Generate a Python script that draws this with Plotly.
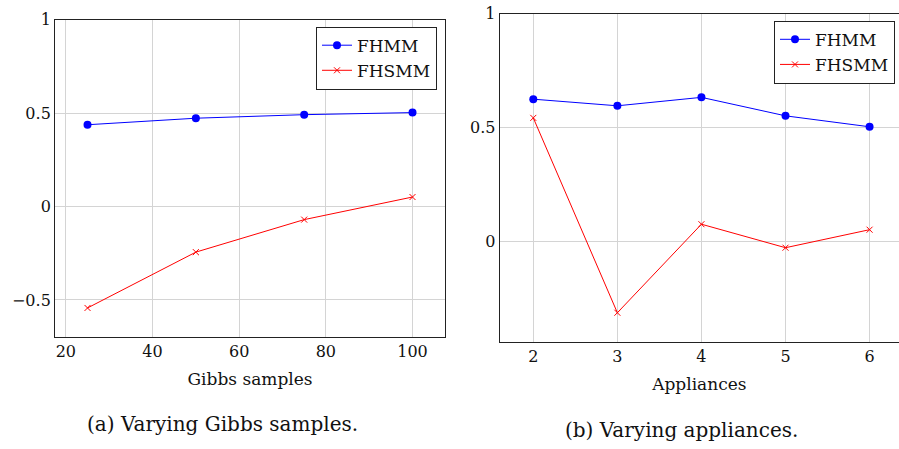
import plotly.graph_objects as go

# Left panel: Gibbs samples
gibbs_x = [25, 50, 75, 100]
gibbs_fhmm = [0.438, 0.473, 0.492, 0.503]
gibbs_fhsmm = [-0.543, -0.244, -0.070, 0.051]

# Right panel: appliances
app_x = [2, 3, 4, 5, 6]
app_fhmm = [0.625, 0.596, 0.633, 0.552, 0.504]
app_fhsmm = [0.543, -0.311, 0.077, -0.026, 0.053]

left_xticks = [20, 40, 60, 80, 100]
left_yticks = [-0.5, 0, 0.5, 1]
left_ytext = ["\u22120.5", "0", "0.5", "1"]
right_xticks = [2, 3, 4, 5, 6]
right_yticks = [0, 0.5, 1]
right_ytext = ["0", "0.5", "1"]

FONT = "DejaVu Serif"
BLUE = "#0000ff"
RED = "#ff0000"
GRID = "#d4d4d4"
TXT = "#111111"

fig = go.Figure()

fig.add_trace(go.Scatter(x=gibbs_x, y=gibbs_fhmm, name="FHMM", mode="lines+markers",
                         line=dict(color=BLUE, width=1), marker=dict(symbol="circle", size=8, color=BLUE),
                         xaxis="x", yaxis="y", legend="legend"))
fig.add_trace(go.Scatter(x=gibbs_x, y=gibbs_fhsmm, name="FHSMM", mode="lines+markers",
                         line=dict(color=RED, width=1), marker=dict(symbol="x-thin", size=6, color=RED,
                                                                   line=dict(color=RED, width=1)),
                         xaxis="x", yaxis="y", legend="legend"))
fig.add_trace(go.Scatter(x=app_x, y=app_fhmm, name="FHMM", mode="lines+markers",
                         line=dict(color=BLUE, width=1), marker=dict(symbol="circle", size=8, color=BLUE),
                         xaxis="x2", yaxis="y2", legend="legend2"))
fig.add_trace(go.Scatter(x=app_x, y=app_fhsmm, name="FHSMM", mode="lines+markers",
                         line=dict(color=RED, width=1), marker=dict(symbol="x-thin", size=6, color=RED,
                                                                   line=dict(color=RED, width=1)),
                         xaxis="x2", yaxis="y2", legend="legend2"))

axis_common = dict(showgrid=True, gridcolor=GRID, gridwidth=1, zeroline=False,
                   linecolor="#222222", linewidth=1, ticks="",
                   tickfont=dict(family=FONT, size=16, color=TXT))

legend_common = dict(bgcolor="white", bordercolor="#222222", borderwidth=1,
                     font=dict(family=FONT, size=17, color=TXT),
                     xanchor="right", yanchor="top", tracegroupgap=0, itemwidth=30)

fig.update_layout(
    width=899, height=449, margin=dict(l=0, r=0, t=0, b=0),
    paper_bgcolor="white", plot_bgcolor="white",
    xaxis=dict(domain=[0.0612, 0.495], range=[17.5, 107.5], tickvals=left_xticks,
               showline=True, mirror=True, anchor="y",
               title=dict(text="Gibbs samples", font=dict(family=FONT, size=17, color=TXT), standoff=12),
               **axis_common),
    yaxis=dict(domain=[0.2539, 0.9755], range=[-0.7, 1.0], tickvals=left_yticks, ticktext=left_ytext,
               showline=True, mirror=True, anchor="x", **axis_common),
    xaxis2=dict(domain=[0.5558, 1.0], range=[1.6, 6.35], tickvals=right_xticks,
                showline=True, mirror=True, anchor="y2",
                title=dict(text="Appliances", font=dict(family=FONT, size=17, color=TXT), standoff=12),
                **axis_common),
    yaxis2=dict(domain=[0.2428, 0.9895], range=[-0.44, 1.0], tickvals=right_yticks, ticktext=right_ytext,
                showline=True, mirror=False, anchor="x2", **axis_common),
    legend=dict(x=437 / 899, y=1 - 18 / 449, **legend_common),
    legend2=dict(x=895 / 899, y=1 - 12 / 449, **legend_common),
    showlegend=True,
    annotations=[
        dict(text="(a) Varying Gibbs samples.", x=222 / 899, y=1 - 423 / 449, xref="paper", yref="paper",
             showarrow=False, font=dict(family=FONT, size=20, color=TXT), xanchor="center", yanchor="middle"),
        dict(text="(b) Varying appliances.", x=681 / 899, y=1 - 430 / 449, xref="paper", yref="paper",
             showarrow=False, font=dict(family=FONT, size=20, color=TXT), xanchor="center", yanchor="middle"),
    ],
)

fig.write_html("out.html")
